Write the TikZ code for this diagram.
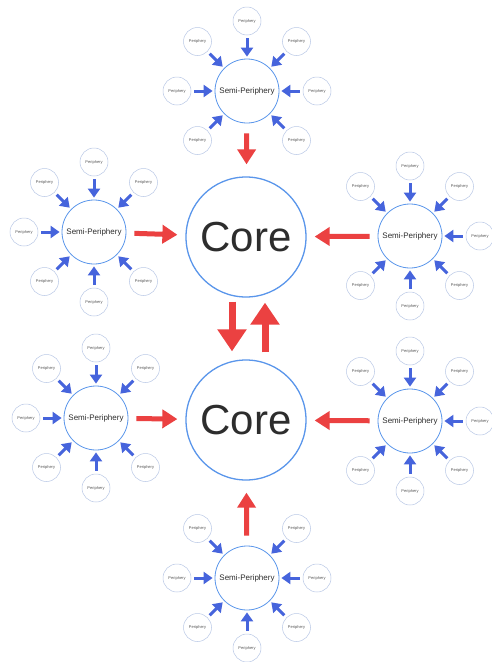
\documentclass[tikz,border=0pt]{standalone}
\usepackage{fontspec}
\setmainfont{Liberation Sans}
\usetikzlibrary{arrows.meta,calc}
\definecolor{ringblue}{RGB}{90,150,235}
\definecolor{arrblue}{RGB}{70,100,220}
\definecolor{arrred}{RGB}{235,65,65}
\definecolor{perline}{RGB}{185,200,230}
\definecolor{txt}{RGB}{45,45,45}
\tikzset{
  core/.style={circle,draw=ringblue,line width=1.3pt,minimum size=120pt,inner sep=0pt,font=\fontsize{42}{42}\selectfont,text=txt},
  semi/.style={circle,draw=ringblue,line width=0.8pt,minimum size=64pt,inner sep=0pt,font=\fontsize{8}{8}\selectfont,text=txt},
  peri/.style={circle,draw=perline,line width=0.5pt,minimum size=28pt,inner sep=0pt,font=\fontsize{4}{4}\selectfont,text=txt!80},
  bluearr/.style={draw=arrblue,line width=3pt,-{Triangle[length=9pt,width=12pt]},shorten <=3pt,shorten >=2pt},
  redarr/.style={draw=arrred,line width=5pt,-{Triangle[length=15pt,width=18pt]},shorten <=8pt,shorten >=8pt},
  bigred/.style={draw=arrred,line width=7pt,-{Triangle[length=22pt,width=28pt]}},
}
\begin{document}
\begin{tikzpicture}[x=1pt,y=-1pt]
\useasboundingbox (0,0) rectangle (492,662);
\fill[white] (0,0) rectangle (492,662);
\node[core] (c1) at (246,237) {Core};
\node[core] (c2) at (246,420) {Core};
\foreach \n/\x/\y/\s in {st/247/91/90, slt/94/232/0, srt/410/236/180, slb/96/418/0, srb/410/421/180, sb/247/578/270}{
  \node[semi] (\n) at (\x,\y) {Semi-Periphery};
  \foreach \a in {0,45,...,315}{
    \ifnum\a=\s\relax\else
      \node[peri] (\n p\a) at ($(\x,\y)+(\a:70)$) {Periphery};
      \draw[bluearr] (\n p\a) -- (\n);
    \fi
  }
}
\draw[redarr,shorten <=10pt,shorten >=12pt] (st) -- (c1);
\draw[redarr] (slt) -- (c1);
\draw[redarr] (srt) -- (c1);
\draw[redarr] (slb) -- (c2);
\draw[redarr] (srb) -- (c2);
\draw[redarr,shorten <=10pt,shorten >=12pt] (sb) -- (c2);
\draw[bigred,shorten <=4pt,shorten >=8pt] ([xshift=-14pt]c1.south) -- ([xshift=-14pt]c2.north);
\draw[bigred,shorten <=7pt,shorten >=5pt] ([xshift=19pt]c2.north) -- ([xshift=19pt]c1.south);
\end{tikzpicture}
\end{document}
